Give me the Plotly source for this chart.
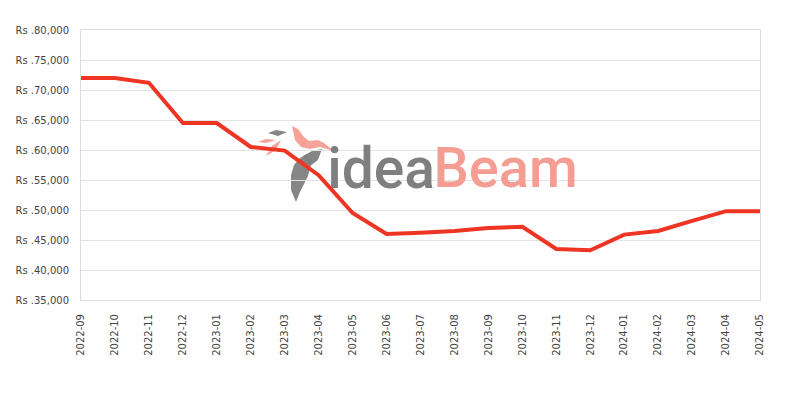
import plotly.graph_objects as go

months = ["2022-09", "2022-10", "2022-11", "2022-12", "2023-01", "2023-02", "2023-03",
          "2023-04", "2023-05", "2023-06", "2023-07", "2023-08", "2023-09", "2023-10",
          "2023-11", "2023-12", "2024-01", "2024-02", "2024-03", "2024-04", "2024-05"]
prices = [72000, 72000, 71200, 64500, 64500, 60500, 59900,
          55800, 49500, 46000, 46200, 46500, 47000, 47200,
          43500, 43300, 45900, 46500, 48200, 49800, 49800]
y_ticks = [35000, 40000, 45000, 50000, 55000, 60000, 65000, 70000, 75000, 80000]
y_labels = ["Rs .{:,}".format(v) for v in y_ticks]
idx = list(range(len(months)))

# page-pixel -> paper helpers for the decorative logo (plot area 81..760 x 30..300 in page px)
def px(x):
    return (x - 81) / 679.0

def py(y):
    return (300 - y) / 270.0

def path(points):
    return "M " + " L ".join("{:.4f},{:.4f}".format(px(a), py(b)) for a, b in points) + " Z"

fig = go.Figure()

# watermark text (drawn first so the line sits on top)
fig.add_trace(go.Scatter(x=[10.43], y=[56100], mode="text", text=["idea"],
                         textposition="middle left", hoverinfo="skip",
                         textfont=dict(family="Roboto", size=57, color="#7f7f7f", weight=500)))
fig.add_trace(go.Scatter(x=[10.38], y=[56100], mode="text", text=["Beam"],
                         textposition="middle right", hoverinfo="skip",
                         textfont=dict(family="Roboto", size=56, color="#f59d93", weight=500)))

fig.add_trace(go.Scatter(x=idx, y=prices, mode="lines",
                         line=dict(color="#ee3524", width=4),
                         text=months, hovertemplate="%{text}: %{y}<extra></extra>"))

logo = [
    # salmon bird
    ([(292, 126), (298, 129), (304, 137), (309, 141), (318, 140), (324, 143), (334, 151),
      (320, 147), (310, 149), (301, 147), (295, 140)], "#f59d93"),
    # gray leaf at top
    ([(268, 133), (276, 130), (287, 132), (278, 136)], "#7f7f7f"),
    # small salmon leaves
    ([(258, 142), (266, 139), (276, 140), (266, 143)], "#f59d93"),
    ([(266, 156), (272, 146), (281, 140), (276, 150)], "#f59d93"),
    # gray feather
    ([(300, 158), (307, 154), (312, 160), (308, 176), (300, 192), (296, 202), (291, 190),
      (291, 175), (294, 165)], "#7f7f7f"),
    # gray wing going right
    ([(303, 156), (312, 151), (322, 149), (318, 160), (310, 166)], "#7f7f7f"),
]
for pts, col in logo:
    fig.add_shape(type="path", path=path(pts), xref="paper", yref="paper",
                  fillcolor=col, line=dict(width=0), layer="below", opacity=0.95)

fig.update_layout(
    width=792, height=392,
    margin=dict(l=73, r=40, t=22, b=100, autoexpand=False),
    paper_bgcolor="white", plot_bgcolor="white",
    showlegend=False,
    font=dict(family="DejaVu Sans", size=10, color="#444444"),
    xaxis=dict(tickvals=idx, ticktext=months, tickangle=-90, showgrid=False,
               range=[0, len(months) - 1], zeroline=False, automargin=False,
               showline=True, linecolor="#dddddd", mirror=True, ticks="",
               ticklabelstandoff=9,
               tickfont=dict(size=10, color="#444444")),
    yaxis=dict(range=[35000, 80000], tickvals=y_ticks, ticktext=y_labels,
               showgrid=True, gridcolor="#e3e3e3", zeroline=False, automargin=False,
               showline=True, linecolor="#dddddd", mirror=True, ticks="",
               ticklabelstandoff=9,
               tickfont=dict(size=10, color="#444444")),
)
fig.write_html("out.html")
